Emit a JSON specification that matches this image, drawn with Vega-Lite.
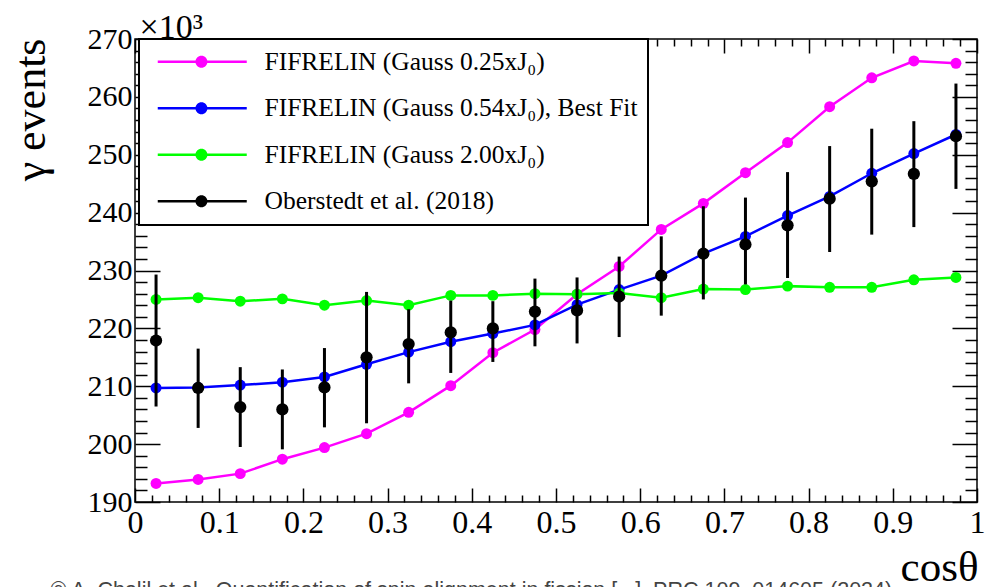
{
  "$schema": "https://vega.github.io/schema/vega-lite/v6.json",
  "width": 842,
  "height": 463,
  "autosize": {"type": "none"},
  "padding": {"left": 135, "top": 39, "right": 28, "bottom": 85},
  "background": "white",
  "config": {
    "view": {"stroke": "black", "strokeWidth": 1.5},
    "axis": {"labelFont": "Liberation Serif", "titleFont": "Liberation Serif", "labelColor": "black", "titleColor": "black", "tickColor": "black", "tickWidth": 1.5, "domain": false, "grid": false, "titleFontWeight": "normal"}
  },
  "datasets": {
    "models": [
      {"cos": 0.025, "events": 193.2, "series": "FIFRELIN (Gauss 0.25xJ₀)"},
      {"cos": 0.075, "events": 193.9, "series": "FIFRELIN (Gauss 0.25xJ₀)"},
      {"cos": 0.125, "events": 194.9, "series": "FIFRELIN (Gauss 0.25xJ₀)"},
      {"cos": 0.175, "events": 197.4, "series": "FIFRELIN (Gauss 0.25xJ₀)"},
      {"cos": 0.225, "events": 199.4, "series": "FIFRELIN (Gauss 0.25xJ₀)"},
      {"cos": 0.275, "events": 201.8, "series": "FIFRELIN (Gauss 0.25xJ₀)"},
      {"cos": 0.325, "events": 205.5, "series": "FIFRELIN (Gauss 0.25xJ₀)"},
      {"cos": 0.375, "events": 210.1, "series": "FIFRELIN (Gauss 0.25xJ₀)"},
      {"cos": 0.425, "events": 215.8, "series": "FIFRELIN (Gauss 0.25xJ₀)"},
      {"cos": 0.475, "events": 219.8, "series": "FIFRELIN (Gauss 0.25xJ₀)"},
      {"cos": 0.525, "events": 225.9, "series": "FIFRELIN (Gauss 0.25xJ₀)"},
      {"cos": 0.575, "events": 230.7, "series": "FIFRELIN (Gauss 0.25xJ₀)"},
      {"cos": 0.625, "events": 237.1, "series": "FIFRELIN (Gauss 0.25xJ₀)"},
      {"cos": 0.675, "events": 241.6, "series": "FIFRELIN (Gauss 0.25xJ₀)"},
      {"cos": 0.725, "events": 246.9, "series": "FIFRELIN (Gauss 0.25xJ₀)"},
      {"cos": 0.775, "events": 252.1, "series": "FIFRELIN (Gauss 0.25xJ₀)"},
      {"cos": 0.825, "events": 258.3, "series": "FIFRELIN (Gauss 0.25xJ₀)"},
      {"cos": 0.875, "events": 263.3, "series": "FIFRELIN (Gauss 0.25xJ₀)"},
      {"cos": 0.925, "events": 266.2, "series": "FIFRELIN (Gauss 0.25xJ₀)"},
      {"cos": 0.975, "events": 265.8, "series": "FIFRELIN (Gauss 0.25xJ₀)"},
      {"cos": 0.025, "events": 209.7, "series": "FIFRELIN (Gauss 0.54xJ₀), Best Fit"},
      {"cos": 0.075, "events": 209.8, "series": "FIFRELIN (Gauss 0.54xJ₀), Best Fit"},
      {"cos": 0.125, "events": 210.2, "series": "FIFRELIN (Gauss 0.54xJ₀), Best Fit"},
      {"cos": 0.175, "events": 210.7, "series": "FIFRELIN (Gauss 0.54xJ₀), Best Fit"},
      {"cos": 0.225, "events": 211.6, "series": "FIFRELIN (Gauss 0.54xJ₀), Best Fit"},
      {"cos": 0.275, "events": 213.8, "series": "FIFRELIN (Gauss 0.54xJ₀), Best Fit"},
      {"cos": 0.325, "events": 215.9, "series": "FIFRELIN (Gauss 0.54xJ₀), Best Fit"},
      {"cos": 0.375, "events": 217.7, "series": "FIFRELIN (Gauss 0.54xJ₀), Best Fit"},
      {"cos": 0.425, "events": 219.1, "series": "FIFRELIN (Gauss 0.54xJ₀), Best Fit"},
      {"cos": 0.475, "events": 220.6, "series": "FIFRELIN (Gauss 0.54xJ₀), Best Fit"},
      {"cos": 0.525, "events": 224.1, "series": "FIFRELIN (Gauss 0.54xJ₀), Best Fit"},
      {"cos": 0.575, "events": 226.7, "series": "FIFRELIN (Gauss 0.54xJ₀), Best Fit"},
      {"cos": 0.625, "events": 229.1, "series": "FIFRELIN (Gauss 0.54xJ₀), Best Fit"},
      {"cos": 0.675, "events": 232.9, "series": "FIFRELIN (Gauss 0.54xJ₀), Best Fit"},
      {"cos": 0.725, "events": 235.9, "series": "FIFRELIN (Gauss 0.54xJ₀), Best Fit"},
      {"cos": 0.775, "events": 239.5, "series": "FIFRELIN (Gauss 0.54xJ₀), Best Fit"},
      {"cos": 0.825, "events": 242.8, "series": "FIFRELIN (Gauss 0.54xJ₀), Best Fit"},
      {"cos": 0.875, "events": 246.8, "series": "FIFRELIN (Gauss 0.54xJ₀), Best Fit"},
      {"cos": 0.925, "events": 250.2, "series": "FIFRELIN (Gauss 0.54xJ₀), Best Fit"},
      {"cos": 0.975, "events": 253.5, "series": "FIFRELIN (Gauss 0.54xJ₀), Best Fit"},
      {"cos": 0.025, "events": 225.0, "series": "FIFRELIN (Gauss 2.00xJ₀)"},
      {"cos": 0.075, "events": 225.3, "series": "FIFRELIN (Gauss 2.00xJ₀)"},
      {"cos": 0.125, "events": 224.7, "series": "FIFRELIN (Gauss 2.00xJ₀)"},
      {"cos": 0.175, "events": 225.1, "series": "FIFRELIN (Gauss 2.00xJ₀)"},
      {"cos": 0.225, "events": 224.0, "series": "FIFRELIN (Gauss 2.00xJ₀)"},
      {"cos": 0.275, "events": 224.8, "series": "FIFRELIN (Gauss 2.00xJ₀)"},
      {"cos": 0.325, "events": 224.0, "series": "FIFRELIN (Gauss 2.00xJ₀)"},
      {"cos": 0.375, "events": 225.7, "series": "FIFRELIN (Gauss 2.00xJ₀)"},
      {"cos": 0.425, "events": 225.7, "series": "FIFRELIN (Gauss 2.00xJ₀)"},
      {"cos": 0.475, "events": 226.0, "series": "FIFRELIN (Gauss 2.00xJ₀)"},
      {"cos": 0.525, "events": 225.9, "series": "FIFRELIN (Gauss 2.00xJ₀)"},
      {"cos": 0.575, "events": 226.1, "series": "FIFRELIN (Gauss 2.00xJ₀)"},
      {"cos": 0.625, "events": 225.3, "series": "FIFRELIN (Gauss 2.00xJ₀)"},
      {"cos": 0.675, "events": 226.8, "series": "FIFRELIN (Gauss 2.00xJ₀)"},
      {"cos": 0.725, "events": 226.7, "series": "FIFRELIN (Gauss 2.00xJ₀)"},
      {"cos": 0.775, "events": 227.3, "series": "FIFRELIN (Gauss 2.00xJ₀)"},
      {"cos": 0.825, "events": 227.1, "series": "FIFRELIN (Gauss 2.00xJ₀)"},
      {"cos": 0.875, "events": 227.1, "series": "FIFRELIN (Gauss 2.00xJ₀)"},
      {"cos": 0.925, "events": 228.4, "series": "FIFRELIN (Gauss 2.00xJ₀)"},
      {"cos": 0.975, "events": 228.8, "series": "FIFRELIN (Gauss 2.00xJ₀)"}
    ],
    "exp": [
      {"cos": 0.025, "events": 217.9, "lo": 206.5, "hi": 229.3, "series": "Oberstedt et al. (2018)"},
      {"cos": 0.075, "events": 209.7, "lo": 202.8, "hi": 216.5, "series": "Oberstedt et al. (2018)"},
      {"cos": 0.125, "events": 206.4, "lo": 199.5, "hi": 213.3, "series": "Oberstedt et al. (2018)"},
      {"cos": 0.175, "events": 206.0, "lo": 199.1, "hi": 212.9, "series": "Oberstedt et al. (2018)"},
      {"cos": 0.225, "events": 209.8, "lo": 202.9, "hi": 216.6, "series": "Oberstedt et al. (2018)"},
      {"cos": 0.275, "events": 215.0, "lo": 203.6, "hi": 226.3, "series": "Oberstedt et al. (2018)"},
      {"cos": 0.325, "events": 217.3, "lo": 210.5, "hi": 223.3, "series": "Oberstedt et al. (2018)"},
      {"cos": 0.375, "events": 219.3, "lo": 212.3, "hi": 224.8, "series": "Oberstedt et al. (2018)"},
      {"cos": 0.425, "events": 220.0, "lo": 214.2, "hi": 224.7, "series": "Oberstedt et al. (2018)"},
      {"cos": 0.475, "events": 222.9, "lo": 216.9, "hi": 228.6, "series": "Oberstedt et al. (2018)"},
      {"cos": 0.525, "events": 223.1, "lo": 217.4, "hi": 228.8, "series": "Oberstedt et al. (2018)"},
      {"cos": 0.575, "events": 225.5, "lo": 218.5, "hi": 232.4, "series": "Oberstedt et al. (2018)"},
      {"cos": 0.625, "events": 229.1, "lo": 222.2, "hi": 235.9, "series": "Oberstedt et al. (2018)"},
      {"cos": 0.675, "events": 232.9, "lo": 225.0, "hi": 241.1, "series": "Oberstedt et al. (2018)"},
      {"cos": 0.725, "events": 234.5, "lo": 227.6, "hi": 242.6, "series": "Oberstedt et al. (2018)"},
      {"cos": 0.775, "events": 237.8, "lo": 228.7, "hi": 247.0, "series": "Oberstedt et al. (2018)"},
      {"cos": 0.825, "events": 242.4, "lo": 233.2, "hi": 251.5, "series": "Oberstedt et al. (2018)"},
      {"cos": 0.875, "events": 245.4, "lo": 236.2, "hi": 254.5, "series": "Oberstedt et al. (2018)"},
      {"cos": 0.925, "events": 246.7, "lo": 237.5, "hi": 255.8, "series": "Oberstedt et al. (2018)"},
      {"cos": 0.975, "events": 253.2, "lo": 244.1, "hi": 262.3, "series": "Oberstedt et al. (2018)"}
    ]
  },
  "layer": [
    {
      "data": {"name": "models"},
      "mark": {"type": "line", "strokeWidth": 2.5},
      "encoding": {
        "x": {
          "field": "cos", "type": "quantitative",
          "scale": {"domain": [0, 1], "nice": false, "zero": false},
          "axis": {
            "orient": "bottom",
            "values": [0, 0.1, 0.2, 0.3, 0.4, 0.5, 0.6, 0.7, 0.8, 0.9, 1],
            "ticks": false, "labelPadding": 5, "labelFontSize": 32,
            "labelExpr": "format(datum.value, '.1~f')",
            "labelFlush": false, "labelOverlap": false, "labelBaseline": "top",
            "title": "cosθ", "titleFontSize": 43, "titleX": 843, "titleY": 78,
            "titleAlign": "right", "titleBaseline": "alphabetic"
          }
        },
        "y": {
          "field": "events", "type": "quantitative",
          "scale": {"domain": [190, 270], "nice": false, "zero": false},
          "axis": {
            "orient": "left",
            "values": [190, 200, 210, 220, 230, 240, 250, 260, 270],
            "ticks": false, "labelPadding": 3, "labelFontSize": 30,
            "labelOverlap": false, "labelFlush": false,
            "title": "γ events", "titleFontSize": 44, "titleAngle": -90,
            "titleX": -91, "titleY": -1, "titleAlign": "right", "titleBaseline": "alphabetic"
          }
        },
        "color": {
          "field": "series", "type": "nominal",
          "scale": {
            "domain": ["FIFRELIN (Gauss 0.25xJ₀)", "FIFRELIN (Gauss 0.54xJ₀), Best Fit", "FIFRELIN (Gauss 2.00xJ₀)", "Oberstedt et al. (2018)"],
            "range": ["#ff00ff", "#0000ff", "#00ff00", "#000000"]
          },
          "legend": {
            "orient": "none", "legendX": 4, "legendY": 0, "title": null,
            "padding": 10, "strokeColor": "black", "fillColor": "white",
            "symbolType": "M-0.4,-0.125H8.5V0.125H-0.4Z M3.37,0A0.6,0.6,0,1,1,4.57,0A0.6,0.6,0,1,1,3.37,0Z",
            "symbolSize": 400, "symbolStrokeWidth": 0,
            "labelFont": "Liberation Serif", "labelFontSize": 25.5, "labelColor": "black",
            "labelOffset": 90, "labelLimit": 0, "rowPadding": 19.5,
            "encode": {
              "legend": {"update": {"strokeWidth": {"value": 2}}},
              "symbols": {"update": {"fill": {"scale": "color", "field": "value"}, "stroke": {"value": "transparent"}, "opacity": {"value": 1}}}
            }
          }
        }
      }
    },
    {
      "data": {"name": "models"},
      "mark": {"type": "point", "filled": true, "opacity": 1, "size": 120},
      "encoding": {
        "x": {
          "field": "cos", "type": "quantitative",
          "axis": {
            "orient": "bottom", "labels": false, "title": null,
            "values": [0,0.02,0.04,0.06,0.08,0.1,0.12,0.14,0.16,0.18,0.2,0.22,0.24,0.26,0.28,0.3,0.32,0.34,0.36,0.38,0.4,0.42,0.44,0.46,0.48,0.5,0.52,0.54,0.56,0.58,0.6,0.62,0.64,0.66,0.68,0.7,0.72,0.74,0.76,0.78,0.8,0.82,0.84,0.86,0.88,0.9,0.92,0.94,0.96,0.98,1],
            "tickSize": {"condition": {"test": "abs(datum.value*10 - round(datum.value*10)) < 0.001", "value": -14}, "value": -7}
          }
        },
        "y": {
          "field": "events", "type": "quantitative",
          "axis": {
            "orient": "left", "labels": false, "title": null,
            "values": [190,192,194,196,198,200,202,204,206,208,210,212,214,216,218,220,222,224,226,228,230,232,234,236,238,240,242,244,246,248,250,252,254,256,258,260,262,264,266,268,270],
            "tickSize": {"condition": {"test": "datum.value % 10 === 0", "value": -25}, "value": -12}
          }
        },
        "color": {"field": "series", "type": "nominal"}
      }
    },
    {
      "data": {"name": "exp"},
      "mark": {"type": "rule", "strokeWidth": 3, "color": "black"},
      "encoding": {
        "x": {
          "field": "cos", "type": "quantitative",
          "axis": {
            "orient": "top", "labels": false,
            "values": [0,0.02,0.04,0.06,0.08,0.1,0.12,0.14,0.16,0.18,0.2,0.22,0.24,0.26,0.28,0.3,0.32,0.34,0.36,0.38,0.4,0.42,0.44,0.46,0.48,0.5,0.52,0.54,0.56,0.58,0.6,0.62,0.64,0.66,0.68,0.7,0.72,0.74,0.76,0.78,0.8,0.82,0.84,0.86,0.88,0.9,0.92,0.94,0.96,0.98,1],
            "tickSize": {"condition": {"test": "abs(datum.value*10 - round(datum.value*10)) < 0.001", "value": -14}, "value": -7},
            "title": "© A. Chalil et al., Quantification of spin alignment in fission [...], PRC 109, 014605 (2024)",
            "titleFont": "Liberation Sans", "titleFontSize": 21.5, "titleColor": "#444444",
            "titleX": -85, "titleY": 540, "titleAlign": "left", "titleBaseline": "top"
          }
        },
        "y": {
          "field": "lo", "type": "quantitative",
          "axis": {
            "orient": "right", "labels": false,
            "values": [190,192,194,196,198,200,202,204,206,208,210,212,214,216,218,220,222,224,226,228,230,232,234,236,238,240,242,244,246,248,250,252,254,256,258,260,262,264,266,268,270],
            "tickSize": {"condition": {"test": "datum.value % 10 === 0", "value": -25}, "value": -12},
            "title": "×10³", "titleFontSize": 34, "titleAngle": 0,
            "titleX": -838, "titleY": -2, "titleAlign": "left", "titleBaseline": "alphabetic"
          }
        },
        "y2": {"field": "hi"}
      }
    },
    {
      "data": {"name": "exp"},
      "mark": {"type": "point", "filled": true, "opacity": 1, "size": 150},
      "encoding": {
        "x": {"field": "cos", "type": "quantitative", "axis": null},
        "y": {"field": "events", "type": "quantitative", "axis": null},
        "color": {"field": "series", "type": "nominal"}
      }
    }
  ],
  "resolve": {"axis": {"x": "independent", "y": "independent"}}
}
